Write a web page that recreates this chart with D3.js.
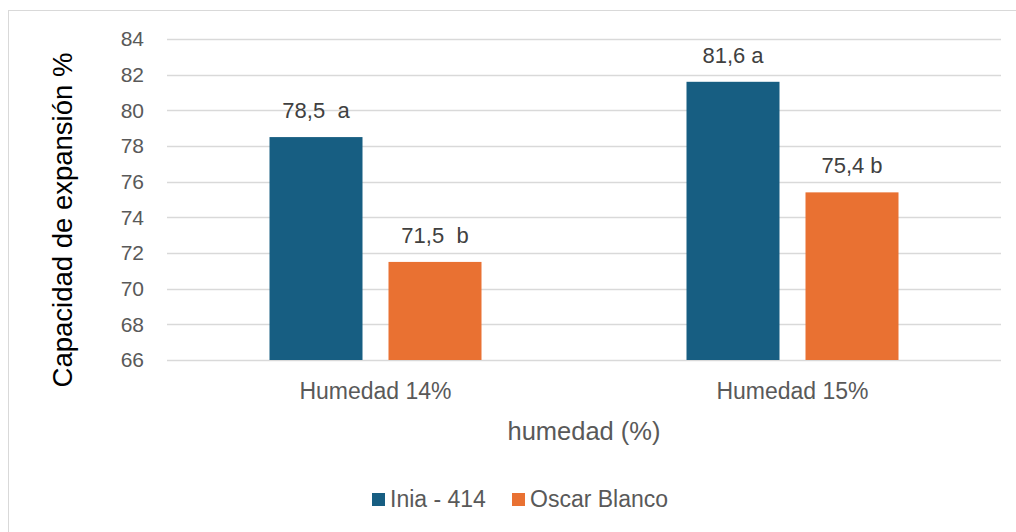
<!DOCTYPE html>
<html>
<head>
<meta charset="utf-8">
<script src="https://cdn.jsdelivr.net/npm/d3@7"></script>
<style>
  html, body { margin: 0; padding: 0; background: #fff; }
  svg { display: block; font-family: "Liberation Sans", Arial, sans-serif; }
</style>
</head>
<body>
<svg id="chart" width="1016" height="532"></svg>
<script>
// Chart data
const categories = ["Humedad 14%", "Humedad 15%"];
const series = ["Inia - 414", "Oscar Blanco"];
const iniaValues = [78.5, 81.6];
const oscarValues = [71.5, 75.4];
const iniaLabels = ["78,5  a", "81,6 a"];
const oscarLabels = ["71,5  b", "75,4 b"];
const yTicks = [66, 68, 70, 72, 74, 76, 78, 80, 82, 84];
const colors = ["#175E82", "#E97132"];

const svg = d3.select("#chart");
const textColor = "#595959";

// outer chart frame
svg.append("rect")
  .attr("x", 8.5).attr("y", 10.5)
  .attr("width", 1020).attr("height", 530)
  .attr("fill", "#fff").attr("stroke", "#D9D9D9").attr("stroke-width", 1);

const plot = { left: 167, right: 1001, top: 39, bottom: 360 };

const y = d3.scaleLinear().domain([66, 84]).range([plot.bottom, plot.top]);
const x0 = d3.scaleBand().domain(categories).range([plot.left, plot.right]);
const inner = 212;
const x1 = d3.scaleBand().domain(series)
  .range([(x0.bandwidth() - inner) / 2, (x0.bandwidth() + inner) / 2])
  .paddingInner(0.2185);

// gridlines
svg.append("g").selectAll("line").data(yTicks).join("line")
  .attr("x1", plot.left).attr("x2", plot.right)
  .attr("y1", d => Math.round(y(d)) + 0.5).attr("y2", d => Math.round(y(d)) + 0.5)
  .attr("stroke", "#D9D9D9").attr("stroke-width", 1.3);

// y axis tick labels
const yAxis = d3.axisLeft(y).tickValues(yTicks).tickSize(0).tickPadding(0);
const gy = svg.append("g").attr("transform", `translate(${plot.left - 23},0)`).call(yAxis);
gy.select(".domain").remove();
gy.selectAll("text").attr("fill", textColor).style("font-size", "21px")
  .style("font-family", "'Liberation Sans', Arial, sans-serif");

// bars
const rows = categories.map((c, i) => ({
  cat: c,
  vals: [
    { s: series[0], v: iniaValues[i], label: iniaLabels[i] },
    { s: series[1], v: oscarValues[i], label: oscarLabels[i] }
  ]
}));

const groups = svg.append("g").selectAll("g").data(rows).join("g")
  .attr("transform", d => `translate(${x0(d.cat)},0)`);

groups.selectAll("rect").data(d => d.vals).join("rect")
  .attr("x", d => x1(d.s))
  .attr("width", x1.bandwidth())
  .attr("y", d => y(d.v))
  .attr("height", d => y(66) - y(d.v))
  .attr("fill", (d, i) => colors[i]);

// value labels above bars
groups.selectAll("text").data(d => d.vals).join("text")
  .attr("x", d => x1(d.s) + x1.bandwidth() / 2)
  .attr("y", d => y(d.v) - 19)
  .attr("text-anchor", "middle")
  .attr("fill", "#404040")
  .style("font-size", "22px")
  .style("white-space", "pre")
  .text(d => d.label);

// x axis category labels
const xAxis = d3.axisBottom(x0).tickSize(0).tickPadding(0);
const gx = svg.append("g").call(xAxis);
gx.select(".domain").remove();
gx.selectAll(".tick text").attr("fill", textColor).style("font-size", "23px")
  .style("font-family", "'Liberation Sans', Arial, sans-serif")
  .attr("y", 399).attr("dy", null);

// axis titles
svg.append("text")
  .attr("x", 584).attr("y", 440)
  .attr("text-anchor", "middle").attr("fill", textColor)
  .style("font-size", "25.5px").text("humedad (%)");

svg.append("text")
  .attr("transform", `translate(72,220) rotate(-90)`)
  .attr("text-anchor", "middle").attr("fill", "#000")
  .style("font-size", "27.5px").text("Capacidad de expansión %");

// legend
const legend = svg.append("g").attr("transform", "translate(372,493)");
const legendX = [0, 140];
series.forEach((s, i) => {
  const g = legend.append("g").attr("transform", `translate(${legendX[i]},0)`);
  g.append("rect").attr("width", 13).attr("height", 13).attr("fill", colors[i]);
  g.append("text").attr("x", 18).attr("y", 14).attr("fill", textColor)
    .style("font-size", "23px").text(s);
});
</script>
</body>
</html>
